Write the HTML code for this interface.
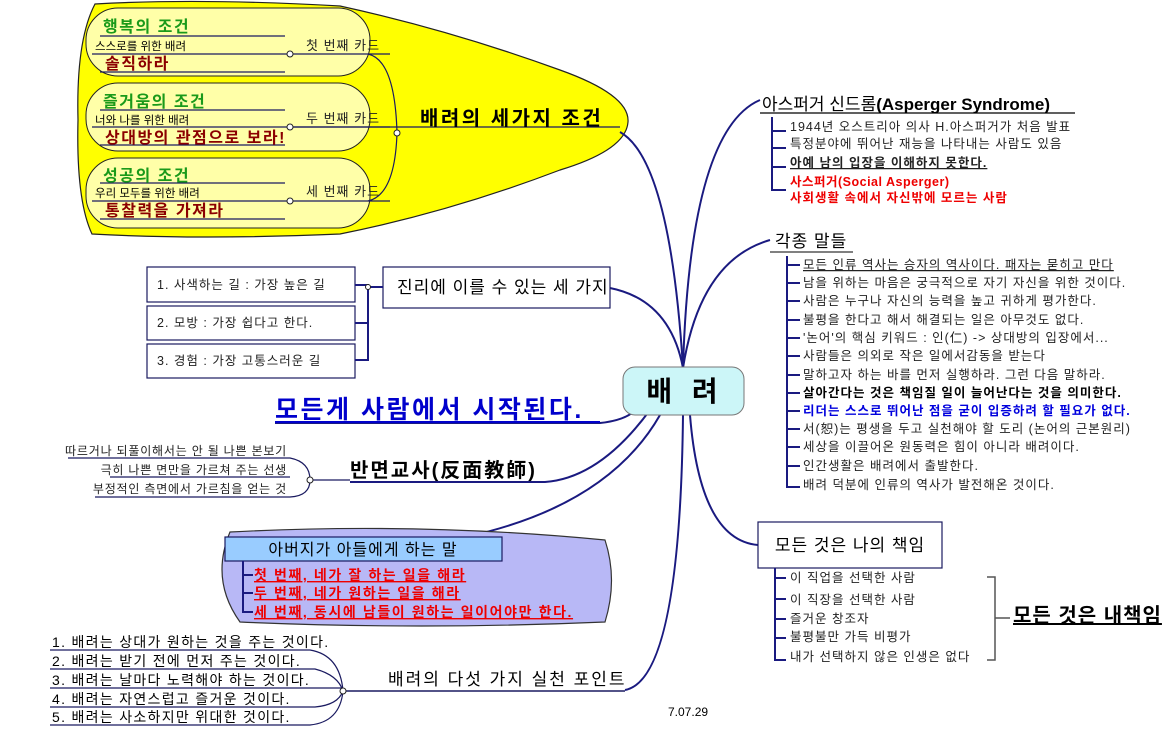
<!DOCTYPE html>
<html><head><meta charset="utf-8"><style>
html,body{margin:0;padding:0;background:#fff;}
svg{display:block;font-family:"Liberation Sans","Noto Sans CJK KR","NanumGothic",sans-serif;}
.s{font-size:12.5px;fill:#222;letter-spacing:1px;}
</style></head><body>
<svg width="1174" height="736" viewBox="0 0 1174 736" xmlns="http://www.w3.org/2000/svg">
<path d="M95,4 Q200,-2 340,6 Q450,30 560,70 Q630,95 628,122 Q626,150 560,170 Q450,212 340,234 Q200,240 92,234 Q76,200 78,120 Q76,40 95,4 Z" fill="#ffff00" stroke="#222" stroke-width="1.2"/>
<g fill="#ffffa8" stroke="#222" stroke-width="1">
<rect x="86" y="8" width="284" height="68" rx="32"/>
<rect x="86" y="83" width="284" height="68" rx="32"/>
<rect x="86" y="158" width="284" height="70" rx="32"/>
</g>
<g fill="none" stroke="#1a1a60" stroke-width="1.2">
<path d="M100,36 H285"/><path d="M92,54 H290 H390"/><path d="M100,72 H285"/>
<path d="M100,110 H285"/><path d="M92,127 H290 H390"/><path d="M100,145 H285"/>
<path d="M100,183 H285"/><path d="M92,201 H290 H390"/><path d="M100,219 H285"/>
<path d="M368,54 Q395,60 397,133 Q395,195 368,201"/><path d="M290,127 H397 H620"/>
</g>
<g fill="#fff" stroke="#222"><circle cx="290" cy="54" r="3"/><circle cx="290" cy="127" r="3"/><circle cx="290" cy="201" r="3"/><circle cx="397" cy="133" r="3"/></g>
<g font-weight="bold" font-size="16" fill="#1a9a1a" letter-spacing="1.5"><text x="103" y="32">행복의 조건</text><text x="103" y="107">즐거움의 조건</text><text x="103" y="181">성공의 조건</text></g>
<g font-size="11.5" fill="#000"><text x="95" y="50">스스로를 위한 배려</text><text x="95" y="124">너와 나를 위한 배려</text><text x="95" y="197">우리 모두를 위한 배려</text></g>
<g font-weight="bold" font-size="16" fill="#8b0000" letter-spacing="1.5"><text x="105" y="69">솔직하라</text><text x="105" y="143">상대방의 관점으로 보라!</text><text x="105" y="216">통찰력을 가져라</text></g>
<g font-size="13" fill="#222" letter-spacing="1"><text x="306" y="50">첫 번째 카드</text><text x="306" y="123">두 번째 카드</text><text x="306" y="196">세 번째 카드</text></g>
<text x="420" y="125" font-size="20" font-weight="bold" fill="#000" letter-spacing="2.5">배려의 세가지 조건</text>

<g fill="none" stroke="#1a1a80" stroke-width="2">
<path d="M683,368 Q670,160 620,132"/>
<path d="M683,368 Q690,130 760,100"/>
<path d="M683,368 Q700,260 770,240"/>
<path d="M683,368 Q670,300 610,288"/>
<path d="M640,405 Q630,420 600,423 H275"/>
<path d="M650,410 Q600,478 545,482 H350"/>
<path d="M660,415 Q600,520 420,545"/>
<path d="M683,415 Q680,680 625,690"/>
<path d="M690,415 Q700,540 758,545"/>
</g>
<rect x="623" y="367" width="121" height="48" rx="12" fill="#ccf6f8" stroke="#777"/>
<text x="685" y="401" text-anchor="middle" font-size="28" font-weight="bold" fill="#000" letter-spacing="6">배 려</text>

<text x="762" y="110" font-size="17" fill="#000">아스퍼거 신드롬<tspan font-weight="bold">(Asperger Syndrome)</tspan></text>
<path d="M760,113 H1075" stroke="#000" stroke-width="1.2"/>
<path d="M772,117 V190 H786 M772,131 H786 M772,148 H786 M772,167 H786" stroke="#1a1a80" stroke-width="2" fill="none"/>
<text x="790" y="131" class="s">1944년 오스트리아 의사 H.아스퍼거가 처음 발표</text>
<text x="790" y="148" class="s">특정분야에 뛰어난 재능을 나타내는 사람도 있음</text>
<text x="790" y="167" class="s" font-weight="bold" fill="#000" text-decoration="underline">아예 남의 입장을 이해하지 못한다.</text>
<text x="790" y="186" font-size="12.5" font-weight="bold" fill="#e00" letter-spacing="0.5">사스퍼거(Social Asperger)</text>
<text x="790" y="202" font-size="12.5" font-weight="bold" fill="#e00" letter-spacing="1">사회생활 속에서 자신밖에 모르는 사람</text>

<text x="775" y="247" font-size="17" fill="#000" letter-spacing="1">각종 말들</text>
<path d="M770,252 H853" stroke="#000"/>
<path d="M787,256 V487 H800" stroke="#1a1a80" stroke-width="2" fill="none"/>
<g stroke="#1a1a80" stroke-width="2">
<path d="M787,265 H800M787,283 H800M787,301 H800M787,320 H800M787,338 H800M787,356 H800M787,375 H800M787,393 H800M787,411 H800M787,429 H800M787,447 H800M787,466 H800"/>
</g>
<g class="s">
<text x="803" y="269" text-decoration="underline">모든 인류 역사는 승자의 역사이다. 패자는 묻히고 만다</text>
<text x="803" y="287">남을 위하는 마음은 궁극적으로 자기 자신을 위한 것이다.</text>
<text x="803" y="305">사람은 누구나 자신의 능력을 높고 귀하게 평가한다.</text>
<text x="803" y="324">불평을 한다고 해서 해결되는 일은 아무것도 없다.</text>
<text x="803" y="342">'논어'의 핵심 키워드 : 인(仁) -&gt; 상대방의 입장에서...</text>
<text x="803" y="360">사람들은 의외로 작은 일에서감동을 받는다</text>
<text x="803" y="379">말하고자 하는 바를 먼저 실행하라. 그런 다음 말하라.</text>
<text x="803" y="397" font-weight="bold" fill="#000">살아간다는 것은 책임질 일이 늘어난다는 것을 의미한다.</text>
<text x="803" y="415" font-weight="bold" fill="#0000dd">리더는 스스로 뛰어난 점을 굳이 입증하려 할 필요가 없다.</text>
<text x="803" y="433">서(恕)는 평생을 두고 실천해야 할 도리 (논어의 근본원리)</text>
<text x="803" y="451">세상을 이끌어온 원동력은 힘이 아니라 배려이다.</text>
<text x="803" y="470">인간생활은 배려에서 출발한다.</text>
<text x="803" y="489">배려 덕분에 인류의 역사가 발전해온 것이다.</text>
</g>

<rect x="758" y="522" width="184" height="46" fill="#fff" stroke="#1a1a60" stroke-width="1.2"/>
<text x="850" y="551" text-anchor="middle" font-size="17" fill="#000" letter-spacing="1">모든 것은 나의 책임</text>
<path d="M775,568 V660 H786 M775,578 H786 M775,599 H786 M775,619 H786 M775,638 H786" stroke="#1a1a80" stroke-width="2" fill="none"/>
<g class="s"><text x="790" y="582">이 직업을 선택한 사람</text><text x="790" y="604">이 직장을 선택한 사람</text><text x="790" y="623">즐거운 창조자</text><text x="790" y="641">불평불만 가득 비평가</text><text x="790" y="661">내가 선택하지 않은 인생은 없다</text></g>
<path d="M987,577 H995 V660 H987 M995,618 H1010" stroke="#555" stroke-width="1.5" fill="none"/>
<text x="1013" y="622" font-size="20" font-weight="bold" fill="#000" text-decoration="underline" letter-spacing="1">모든 것은 내책임</text>

<rect x="383" y="267" width="227" height="41" fill="#fff" stroke="#1a1a60" stroke-width="1.2"/>
<text x="397" y="293" font-size="17" fill="#000" letter-spacing="1">진리에 이를 수 있는 세 가지</text>
<g fill="#fff" stroke="#1a1a60" stroke-width="1.2">
<rect x="147" y="267" width="208" height="35"/><rect x="147" y="306" width="208" height="34"/><rect x="147" y="344" width="208" height="34"/>
</g>
<path d="M355,285 H368 V360 H355 M355,323 H368 M368,287 H383" stroke="#1a1a80" stroke-width="2" fill="none"/>
<circle cx="368" cy="287" r="2.5" fill="#fff" stroke="#222"/>
<g class="s"><text x="157" y="289">1. 사색하는 길 : 가장 높은 길</text><text x="157" y="327">2. 모방  : 가장 쉽다고 한다.</text><text x="157" y="365">3. 경험 : 가장 고통스러운 길</text></g>

<text x="275" y="418" font-size="25" font-weight="bold" fill="#0000cc" letter-spacing="2.5">모든게 사람에서 시작된다.</text>
<path d="M275,422 H600" stroke="#0000cc" stroke-width="2"/>

<text x="350" y="477" font-size="20" font-weight="bold" fill="#000" letter-spacing="2">반면교사(反面教師)</text>
<g font-size="12" fill="#222" text-anchor="end" letter-spacing="0.8"><text x="287" y="455">따르거나 되풀이해서는 안 될 나쁜 본보기</text><text x="287" y="474">극히 나쁜 면만을 가르쳐 주는 선생</text><text x="287" y="493">부정적인 측면에서 가르침을 얻는 것</text></g>
<path d="M68,458 H290 Q310,462 310,480 Q310,496 290,497 H95 M110,477 H290 M310,480 H350" stroke="#1a1a60" stroke-width="1.2" fill="none"/>
<circle cx="310" cy="480" r="3" fill="#fff" stroke="#222"/>

<path d="M230,532 Q420,522 605,540 Q618,580 605,622 Q420,630 240,622 Q210,580 230,532 Z" fill="#b8b8f6" stroke="#333" stroke-width="1.2"/>
<rect x="225" y="537" width="277" height="24" fill="#99ccff" stroke="#1a1a60" stroke-width="1.2"/>
<text x="363" y="555" text-anchor="middle" font-size="16" fill="#000" letter-spacing="1">아버지가 아들에게 하는 말</text>
<path d="M243,561 V612 H253 M243,575 H253 M243,593 H253" stroke="#1a1a80" stroke-width="2" fill="none"/>
<g font-size="14" font-weight="bold" fill="#ee0000" text-decoration="underline" letter-spacing="1.6"><text x="254" y="580">첫 번째, 네가 잘 하는 일을 해라</text><text x="254" y="598">두 번째, 네가 원하는 일을 해라</text><text x="254" y="617">세 번째, 동시에 남들이 원하는 일이어야만 한다.</text></g>

<text x="388" y="685" font-size="17" fill="#000" letter-spacing="2">배려의 다섯 가지 실천 포인트</text>
<path d="M343,691 H625" stroke="#1a1a60" stroke-width="1.5"/>
<g font-size="14" fill="#000" letter-spacing="1.3"><text x="52" y="647">1. 배려는 상대가 원하는 것을 주는 것이다.</text><text x="52" y="666">2. 배려는 받기 전에 먼저 주는 것이다.</text><text x="52" y="685">3. 배려는 날마다 노력해야 하는 것이다.</text><text x="52" y="704">4. 배려는 자연스럽고 즐거운 것이다.</text><text x="52" y="722">5. 배려는 사소하지만 위대한 것이다.</text></g>
<g stroke="#1a1a60" stroke-width="1.2" fill="none">
<path d="M50,650 H310 Q340,655 343,691"/><path d="M50,669 H315 Q338,675 343,691"/><path d="M50,688 H343"/><path d="M50,707 H315 Q338,705 343,691"/><path d="M50,725 H310 Q340,722 343,691"/>
</g>
<circle cx="343" cy="691" r="3" fill="#fff" stroke="#222"/>
<text x="668" y="716" font-size="12" fill="#000">7.07.29</text>
</svg>
</body></html>
